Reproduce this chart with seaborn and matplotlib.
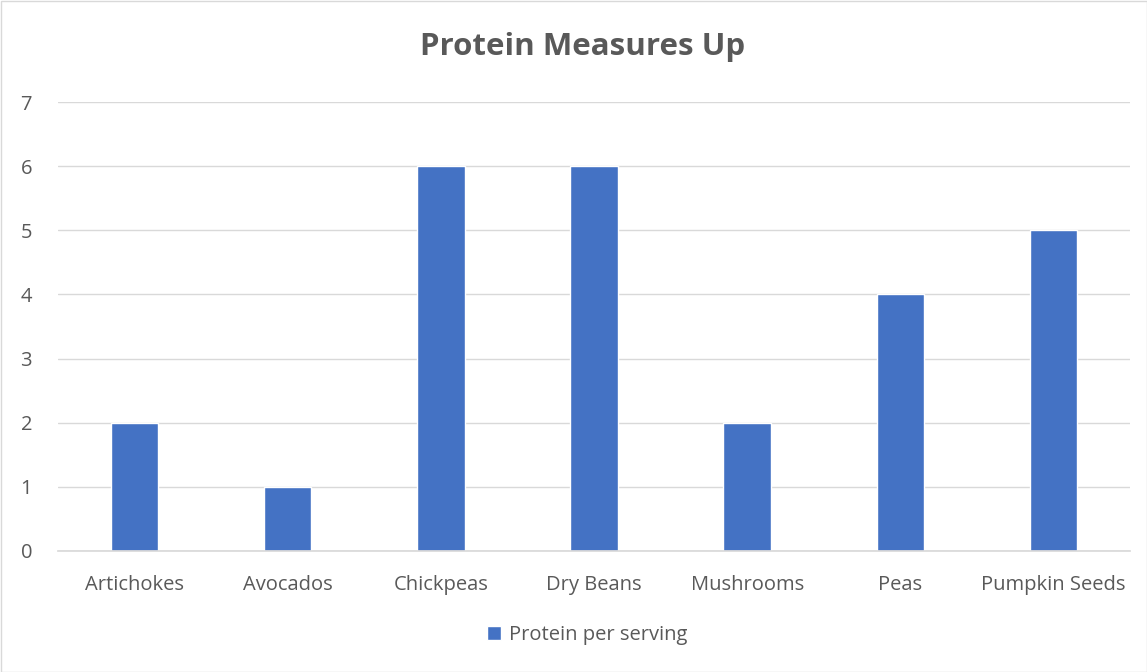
import matplotlib
matplotlib.use("Agg")
import matplotlib.pyplot as plt
import seaborn as sns
import pandas as pd

categories = ["Artichokes", "Avocados", "Chickpeas", "Dry Beans", "Mushrooms", "Peas", "Pumpkin Seeds"]
values = [2, 1, 6, 6, 2, 4, 5]
series_name = "Protein per serving"
title = "Protein Measures Up"
yticks = [0, 1, 2, 3, 4, 5, 6, 7]

sns.set_theme(style="white")
plt.rcParams['font.family'] = ['Open Sans', 'DejaVu Sans']

df = pd.DataFrame({"Food": categories, "Protein": values, "Series": series_name})

fig = plt.figure(figsize=(11.47, 6.72), dpi=100)
ax = fig.add_axes([58/1147, 1 - 551/672, (1130-58)/1147, (551-102)/672])

sns.barplot(data=df, x="Food", y="Protein", hue="Series", palette=["#4472C4"],
            width=0.31, ax=ax, saturation=1)

ax.set_xlim(-0.5, 6.5)
ax.set_ylim(0, 7)
ax.set_yticks(yticks)
ax.yaxis.grid(True, color="#D9D9D9", linewidth=1)
ax.set_axisbelow(True)
for s in ["left", "right", "top"]:
    ax.spines[s].set_visible(False)
ax.spines["bottom"].set_color("#D9D9D9")
ax.set_xlabel("")
ax.set_ylabel("")
ax.tick_params(axis="both", length=0, labelsize=14.5, labelcolor="#595959")
ax.tick_params(axis="x", pad=17)
ax.tick_params(axis="y", pad=27)
for lbl in ax.get_yticklabels():
    lbl.set_horizontalalignment("left")

fig.text(583/1147, 1 - 47/672, title, ha="center", va="center",
         fontsize=22.5, fontweight="bold", color="#595959")

ax.legend_.remove()
handles, labels = ax.get_legend_handles_labels()
fig.legend(handles, labels, loc="center", bbox_to_anchor=(587/1147, 1 - 635/672),
           frameon=False, fontsize=14.5, labelcolor="#595959",
           handlelength=0.7, handleheight=0.7, handletextpad=0.4)

fig.patches.append(plt.Rectangle((0.5/1147, 0.5/672), 1 - 1/1147, 1 - 1/672,
                                 transform=fig.transFigure, fill=False,
                                 edgecolor="#D9D9D9", linewidth=1))
fig.savefig("out.png", dpi=100, facecolor="white")
